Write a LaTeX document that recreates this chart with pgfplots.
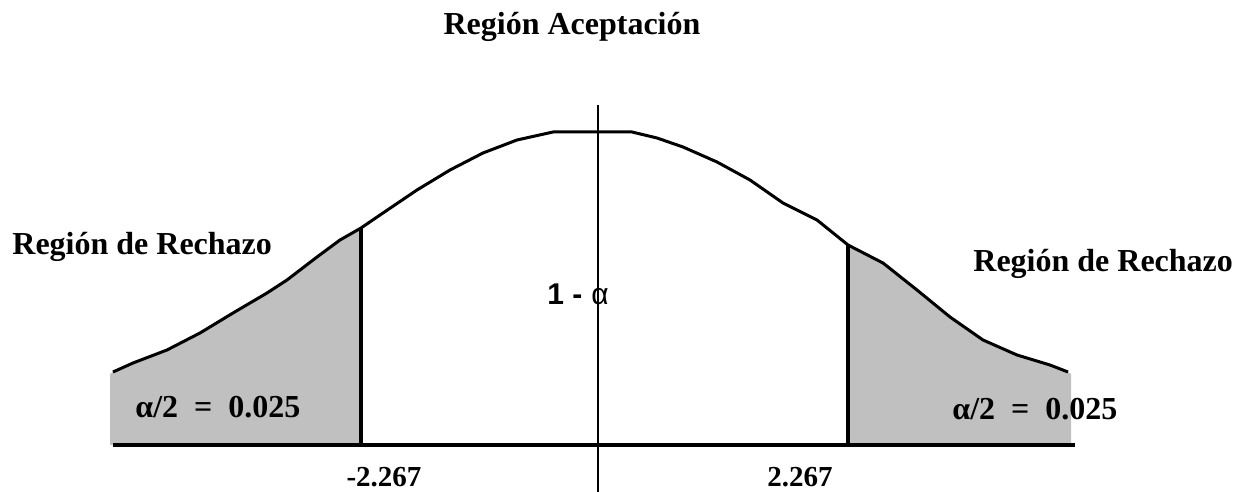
\documentclass[border=0pt]{standalone}
\usepackage{fontspec}
\setmainfont{Liberation Serif}
\newfontfamily\arial{Liberation Sans}
\usepackage{pgfplots}
\pgfplotsset{compat=1.18}
\definecolor{shade}{RGB}{192,192,192}

% curve (x, height), pixel-like units
\pgfplotstableread{
x y
113 120
133 129
167 142
200 159
233 179
267 199
287 212
317 235
340 252
361 264
383 279
417 302
450 322
483 339
517 352
553 360
632 360
657 354
683 345
717 330
750 312
783 289
817 272
848 247
883 229
917 202
950 175
983 152
1017 137
1050 127
1068 120
}\curve

\begin{document}
\begin{tikzpicture}
\begin{axis}[
    name=ax,
    scale only axis,
    width=624pt, height=246pt,
    xmin=0, xmax=1248, ymin=0, ymax=492,
    hide axis,
    clip=false,
    ]
% shaded tails
\addplot[fill=shade, draw=none] coordinates {
  (110,47) (110,118) (113,120) (133,129) (167,142) (200,159) (233,179)
  (267,199) (287,212) (317,235) (340,252) (361,264) (361,47)} -- cycle;
\addplot[fill=shade, draw=none] coordinates {
  (848,47) (848,247) (883,229) (917,202) (950,175) (983,152)
  (1017,137) (1050,127) (1068,120) (1071,118) (1071,47)} -- cycle;
% bell curve
\addplot[black, line width=1.5pt] table[x=x, y=y] {\curve};
% base line and vertical lines
\addplot[black, line width=2pt] coordinates {(113,47) (1075,47)};
\addplot[black, line width=0.8pt] coordinates {(598,387) (598,0)};
\addplot[black, line width=2pt] coordinates {(361,47) (361,264)};
\addplot[black, line width=2pt] coordinates {(848,47) (848,247)};

\node[anchor=base, inner sep=0, font=\fontsize{16}{18}\selectfont\bfseries]
  at (axis cs:572,457) {Región Aceptación};
\node[anchor=base west, inner sep=0, font=\fontsize{16}{18}\selectfont\bfseries]
  at (axis cs:12,237) {Región de Rechazo};
\node[anchor=base west, inner sep=0, font=\fontsize{16}{18}\selectfont\bfseries]
  at (axis cs:973,220) {Región de Rechazo};
\node[anchor=base west, inner sep=0, font=\fontsize{15}{17}\selectfont\arial\bfseries]
  at (axis cs:547,187) {1 -\kern0.3em\mdseries α};
\node[anchor=base west, inner sep=0, font=\fontsize{16}{18}\selectfont\bfseries]
  at (axis cs:135,74) {α/2\ \ =\ \ 0.025};
\node[anchor=base west, inner sep=0, font=\fontsize{16}{18}\selectfont\bfseries]
  at (axis cs:952,72) {α/2\ \ =\ \ 0.025};
\node[anchor=base, inner sep=0, font=\fontsize{14.5}{16}\selectfont\bfseries]
  at (axis cs:384,5) {-2.267};
\node[anchor=base, inner sep=0, font=\fontsize{14.5}{16}\selectfont\bfseries]
  at (axis cs:800,5) {2.267};
\end{axis}
\pgfresetboundingbox
\path (ax.south west) rectangle (ax.north east);
\end{tikzpicture}
\end{document}
